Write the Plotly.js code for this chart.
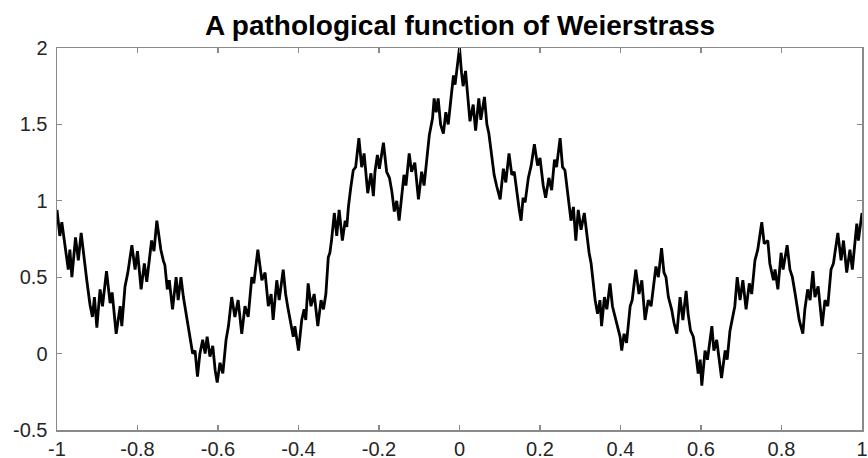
<!DOCTYPE html>
<html>
<head>
<meta charset="utf-8">
<script src="https://cdn.plot.ly/plotly-3.0.1.min.js"></script>
<style>html,body{margin:0;padding:0;background:#fff;}#chart{width:868px;height:458px;}</style>
</head>
<body>
<div id="chart"></div>
<script>
// Values (x, y pairs along the curve)
const xLeft = [-1.000,-0.993,-0.988,-0.980,-0.972,-0.968,-0.963,-0.954,-0.947,-0.940,-0.932,-0.926,-0.918,-0.912,-0.907,-0.901,-0.893,-0.887,-0.877,-0.868,-0.863,-0.853,-0.843,-0.839,-0.831,-0.824,-0.814,-0.806,-0.800,-0.791,-0.783,-0.777,-0.765,-0.759,-0.752,-0.742,-0.736,-0.732,-0.726,-0.721,-0.713,-0.704,-0.699,-0.692,-0.686,-0.678,-0.671,-0.663,-0.657,-0.651,-0.645,-0.638,-0.632,-0.627,-0.620,-0.613,-0.607,-0.602,-0.595,-0.588,-0.580,-0.574,-0.566,-0.558,-0.550,-0.541,-0.533,-0.525,-0.516,-0.511,-0.501,-0.491,-0.483,-0.475,-0.468,-0.463,-0.454,-0.448,-0.438,-0.432,-0.427,-0.421,-0.413,-0.409,-0.400,-0.392,-0.386,-0.382,-0.376,-0.369,-0.361,-0.352,-0.344,-0.338,-0.332,-0.326,-0.322,-0.318,-0.311,-0.305,-0.299,-0.291,-0.284,-0.280,-0.276,-0.270,-0.264,-0.258,-0.250,-0.243,-0.237,-0.228,-0.220,-0.214,-0.210,-0.204,-0.199,-0.189,-0.181,-0.174,-0.168,-0.162,-0.156,-0.150,-0.144,-0.138,-0.133,-0.125,-0.119,-0.111,-0.102,-0.094,-0.088,-0.081,-0.075,-0.067,-0.063,-0.058,-0.053,-0.047,-0.040,-0.034,-0.028,-0.022,-0.015,-0.011,-0.005,0.000];
const yLeft = [0.94,0.77,0.86,0.72,0.55,0.68,0.50,0.76,0.61,0.79,0.59,0.48,0.32,0.24,0.37,0.17,0.42,0.31,0.54,0.33,0.40,0.13,0.31,0.18,0.44,0.53,0.71,0.55,0.67,0.42,0.59,0.47,0.74,0.67,0.87,0.68,0.61,0.58,0.42,0.48,0.29,0.50,0.35,0.50,0.37,0.24,0.13,0.00,0.02,-0.15,0.00,0.09,0.00,0.11,-0.02,0.05,-0.11,-0.19,-0.06,-0.13,0.09,0.18,0.37,0.24,0.35,0.13,0.31,0.24,0.50,0.46,0.68,0.48,0.53,0.31,0.39,0.22,0.48,0.35,0.55,0.39,0.31,0.22,0.11,0.18,0.02,0.22,0.29,0.22,0.46,0.31,0.39,0.18,0.35,0.29,0.39,0.63,0.66,0.74,0.92,0.77,0.94,0.74,0.87,0.83,0.96,1.09,1.20,1.22,1.41,1.22,1.31,1.05,1.18,1.03,1.19,1.30,1.21,1.38,1.19,1.15,1.06,0.93,1.00,0.87,1.02,1.17,1.10,1.31,1.19,1.25,1.01,1.19,1.10,1.30,1.43,1.54,1.67,1.58,1.67,1.50,1.44,1.58,1.50,1.65,1.82,1.76,1.91,2.00];
const xRight = [0.005,0.009,0.015,0.022,0.026,0.034,0.040,0.048,0.053,0.062,0.068,0.073,0.076,0.080,0.086,0.092,0.101,0.109,0.115,0.123,0.130,0.136,0.142,0.148,0.153,0.158,0.163,0.171,0.178,0.186,0.194,0.200,0.208,0.214,0.222,0.229,0.236,0.241,0.250,0.256,0.262,0.266,0.272,0.277,0.283,0.289,0.295,0.302,0.310,0.316,0.322,0.327,0.332,0.337,0.343,0.349,0.353,0.360,0.366,0.374,0.380,0.386,0.393,0.399,0.403,0.409,0.415,0.424,0.429,0.438,0.446,0.453,0.461,0.469,0.476,0.484,0.488,0.494,0.502,0.508,0.513,0.519,0.527,0.533,0.540,0.548,0.555,0.563,0.568,0.574,0.581,0.588,0.593,0.598,0.602,0.610,0.616,0.627,0.632,0.639,0.647,0.651,0.660,0.665,0.672,0.679,0.684,0.690,0.697,0.704,0.712,0.720,0.726,0.734,0.741,0.751,0.757,0.766,0.771,0.780,0.784,0.791,0.799,0.804,0.814,0.821,0.827,0.834,0.840,0.844,0.853,0.858,0.865,0.871,0.878,0.883,0.891,0.896,0.901,0.908,0.915,0.923,0.929,0.940,0.948,0.954,0.962,0.970,0.976,0.987,0.991,1.000];
const yRight = [1.84,1.75,1.85,1.67,1.52,1.63,1.46,1.67,1.53,1.68,1.50,1.44,1.38,1.32,1.17,1.10,1.01,1.21,1.12,1.31,1.17,1.19,1.06,0.95,0.87,1.02,0.99,1.15,1.23,1.37,1.23,1.28,1.10,1.02,1.15,1.07,1.27,1.22,1.41,1.22,1.20,1.11,1.01,0.87,0.96,0.74,0.94,0.81,0.92,0.77,0.66,0.59,0.46,0.35,0.26,0.35,0.18,0.37,0.29,0.46,0.31,0.24,0.18,0.11,0.02,0.13,0.07,0.31,0.35,0.55,0.39,0.48,0.22,0.35,0.31,0.50,0.57,0.50,0.69,0.53,0.50,0.37,0.29,0.20,0.13,0.37,0.22,0.41,0.26,0.15,0.11,-0.02,-0.13,-0.04,-0.21,0.02,-0.04,0.18,0.02,0.09,-0.09,-0.16,0.02,-0.04,0.15,0.26,0.31,0.50,0.35,0.48,0.29,0.46,0.39,0.61,0.68,0.86,0.72,0.74,0.59,0.48,0.55,0.42,0.66,0.55,0.71,0.55,0.50,0.39,0.29,0.22,0.13,0.29,0.42,0.35,0.54,0.37,0.44,0.31,0.18,0.35,0.31,0.55,0.59,0.79,0.61,0.74,0.53,0.68,0.55,0.85,0.74,0.92];
const xTicks = [-1,-0.8,-0.6,-0.4,-0.2,0,0.2,0.4,0.6,0.8,1];
const xTickText = ['-1','-0.8','-0.6','-0.4','-0.2','0','0.2','0.4','0.6','0.8','1'];
const yTicks = [-0.5,0,0.5,1,1.5,2];
const yTickText = ['-0.5','0','0.5','1','1.5','2'];
const titleText = 'A pathological function of Weierstrass';

const xs = xLeft.concat(xRight);
const ys = yLeft.concat(yRight);

const axisCommon = {
  showgrid:false, zeroline:false, showline:true, linecolor:'#8a8a8a', linewidth:1.5,
  mirror:'ticks', ticks:'inside', ticklen:5, tickwidth:1.2, tickcolor:'#8a8a8a',
  tickfont:{family:'Liberation Sans, Arial, sans-serif', size:20, color:'#262626'},
  tickmode:'array'
};

const data = [{
  x: xs, y: ys, type:'scatter', mode:'lines',
  line:{color:'#000000', width:2.8}, hoverinfo:'skip'
}];

const layout = {
  width:868, height:458,
  margin:{l:57, r:6, t:48, b:28},
  paper_bgcolor:'#ffffff', plot_bgcolor:'#ffffff',
  showlegend:false,
  title:{text:'<b>'+titleText+'</b>', x:0.53, xanchor:'center', y:0.945, yanchor:'middle',
         font:{family:'Liberation Sans, Arial, sans-serif', size:28, color:'#000000'}},
  xaxis: Object.assign({}, axisCommon, {range:[-1,1], tickvals:xTicks, ticktext:xTickText}),
  yaxis: Object.assign({}, axisCommon, {range:[-0.5,2], tickvals:yTicks, ticktext:yTickText, ticklabelstandoff:4})
};

Plotly.newPlot('chart', data, layout, {staticPlot:true, displayModeBar:false});
</script>
</body>
</html>
